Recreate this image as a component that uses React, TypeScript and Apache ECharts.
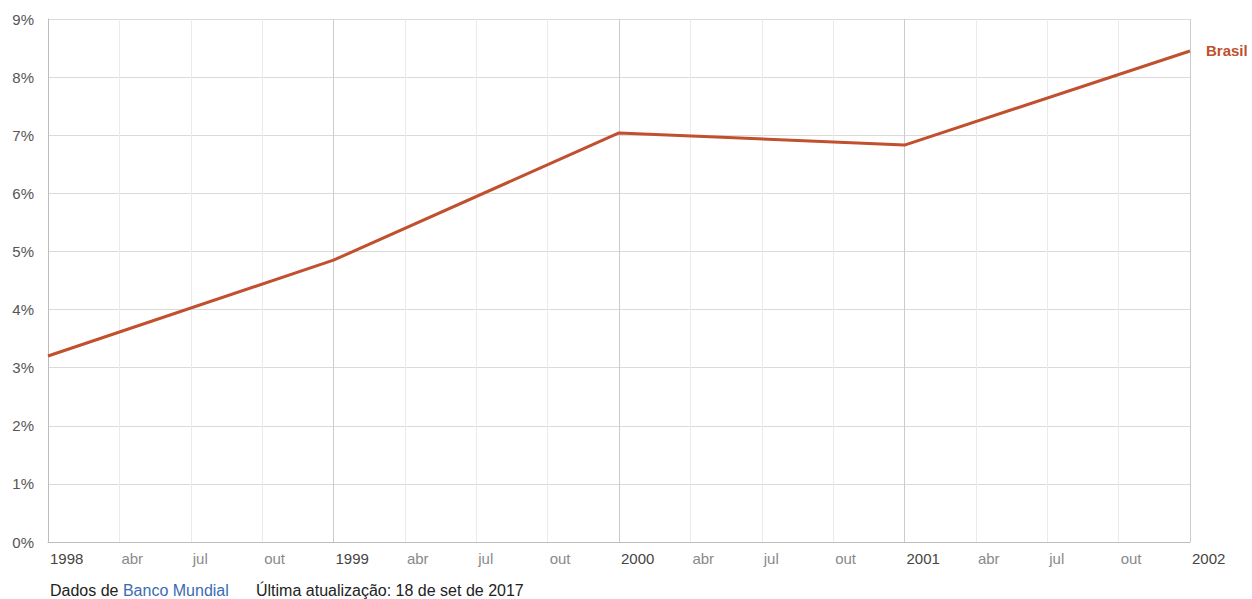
import React, { useEffect, useRef } from "react";
import * as echarts from "echarts";

const years = [1998, 1999, 2000, 2001, 2002];
const values = [3.2, 4.85, 7.04, 6.83, 8.45];
const quarterLabels = ["", "abr", "jul", "out"];
const seriesName = "Brasil";
const sourcePrefix = "Dados de ";
const sourceName = "Banco Mundial";
const updatedText = "Última atualização: 18 de set de 2017";

const FONT = "'Liberation Sans', Arial, sans-serif";
const LINE_COLOR = "#c0502e";

export default function App() {
  const ref = useRef<HTMLDivElement>(null);
  useEffect(() => {
    if (!ref.current) return;
    const chart = echarts.init(ref.current, null, { renderer: "svg" });
    chart.setOption({
      animation: false,
      backgroundColor: "#ffffff",
      grid: { left: 48, right: 62, top: 19, bottom: 57, containLabel: false },
      xAxis: {
        type: "value",
        min: 1998,
        max: 2002,
        interval: 0.25,
        axisLine: { show: true, lineStyle: { color: "#bdbdbd", width: 1 } },
        axisTick: { show: false },
        splitLine: {
          show: true,
          lineStyle: { color: ["#cccccc", "#ebebeb", "#ebebeb", "#ebebeb"], width: 1 },
        },
        axisLabel: {
          show: true,
          showMinLabel: true,
          showMaxLabel: true,
          align: "left",
          margin: 9,
          fontFamily: FONT,
          fontSize: 15,
          formatter: (v: number) => {
            const y = Math.floor(v + 1e-6);
            const q = Math.round((v - y) * 4);
            if (q === 0) return "{y|" + y + "}";
            return "{q|" + quarterLabels[q] + "}";
          },
          rich: {
            y: { color: "#444444", fontFamily: FONT, fontSize: 15, padding: [0, 0, 0, 2] },
            q: { color: "#8a8a8a", fontFamily: FONT, fontSize: 15, padding: [0, 0, 0, 2] },
          },
        },
      },
      yAxis: {
        type: "value",
        min: 0,
        max: 9,
        interval: 1,
        axisLine: { show: true, lineStyle: { color: "#bdbdbd", width: 1 } },
        axisTick: { show: false },
        splitLine: { show: true, lineStyle: { color: "#dadada", width: 1 } },
        axisLabel: {
          margin: 14,
          color: "#555555",
          fontFamily: FONT,
          fontSize: 15,
          formatter: (v: number) => v + "%",
        },
      },
      series: [
        {
          type: "line",
          name: seriesName,
          data: years.map((y, i) => [y, values[i]]),
          showSymbol: false,
          symbol: "none",
          lineStyle: { color: LINE_COLOR, width: 3 },
          itemStyle: { color: LINE_COLOR },
          endLabel: {
            show: true,
            formatter: seriesName,
            color: LINE_COLOR,
            fontFamily: FONT,
            fontSize: 15,
            fontWeight: "bold",
            distance: 16,
          },
        },
      ],
      graphic: [
        {
          type: "text",
          left: 50,
          top: 582,
          style: {
            text: "{a|" + sourcePrefix + "}{b|" + sourceName + "}",
            rich: {
              a: { fill: "#222222", fontFamily: FONT, fontSize: 16 },
              b: { fill: "#3a6bb5", fontFamily: FONT, fontSize: 16 },
            },
          },
        },
        {
          type: "text",
          left: 256,
          top: 582,
          style: {
            text: updatedText,
            fill: "#222222",
            fontFamily: FONT,
            fontSize: 16,
          },
        },
      ],
    });
    return () => chart.dispose();
  }, []);
  return (
    <div
      ref={ref}
      style={{ position: "fixed", left: 0, top: 0, width: 1252, height: 599, background: "#fff" }}
    />
  );
}
